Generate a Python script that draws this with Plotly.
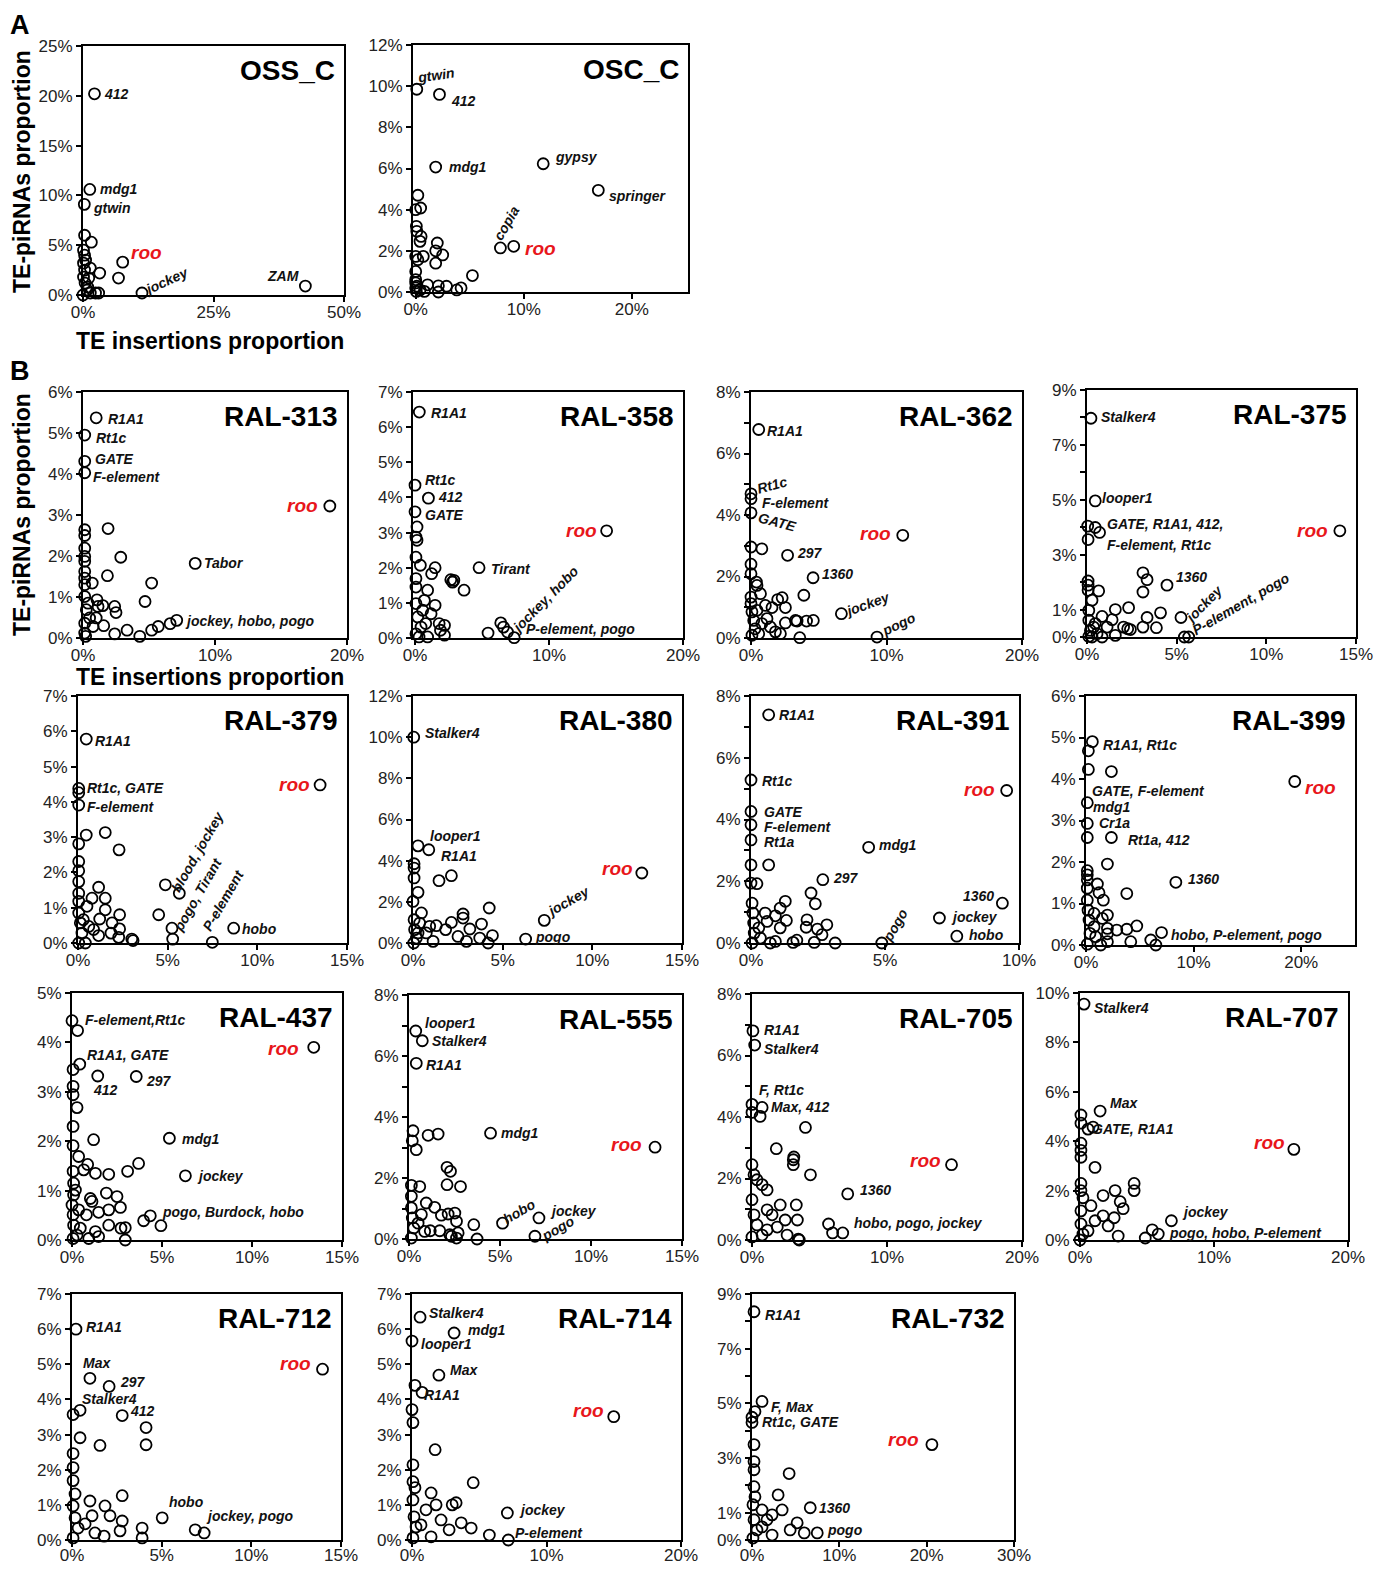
import plotly.graph_objects as go

W, H = 1393, 1573
OFF = 8  # page body margin of the html page
FW, FH = W - 2 * OFF, H - 2 * OFF
FONT = "Arial, Liberation Sans, Helvetica, sans-serif"
RED = "#e8161b"

# ---------------- DATA (percent values) ----------------
panel_names = ["OSS_C", "OSC_C", "RAL-313", "RAL-358", "RAL-362", "RAL-375",
               "RAL-379", "RAL-380", "RAL-391", "RAL-399", "RAL-437", "RAL-555",
               "RAL-705", "RAL-707", "RAL-712", "RAL-714", "RAL-732"]

oss_c_x = [2.2, 1.3, 0.25, 0.3, 1.6, 0.1, 0.3, 0.5, 7.6, 6.8, 3.2, 1.4, 11.3, 42.6,
           0.1, 0.4, 0.8, 1.4, 2.4, 3.0, 0.0, 0.9, 0.3, 1.1, 0.1]
oss_c_y = [20.2, 10.6, 9.1, 6.0, 5.3, 4.5, 4.0, 3.5, 3.3, 1.7, 2.2, 2.7, 0.2, 0.9,
           1.8, 1.2, 0.5, 0.2, 0.2, 0.2, 0.0, 0.8, 2.5, 1.7, 3.2]

osc_c_x = [0.1, 2.2, 1.85, 11.8, 16.9, 7.84, 9.07, 0.2, 0.0, 0.46, 0.06, 0.1, 0.5, 0.4,
           2.0, 1.85, 2.5, 1.85, 0.7, 0.0, 0.2, 0.0, 5.25, 1.1, 2.1, 2.85, 3.8, 4.2,
           0.0, 0.0, 0.06, 0.4, 0.8, 2.1, 0.0, 0.1]
osc_c_y = [9.85, 9.6, 6.07, 6.23, 4.94, 2.14, 2.22, 4.7, 4.0, 4.08, 3.19, 2.95, 2.7, 2.46,
           2.38, 2.0, 1.8, 1.4, 1.73, 1.73, 1.57, 1.0, 0.8, 0.35, 0.3, 0.28, 0.1, 0.2,
           0.44, 0.2, 0.03, 0.1, 0.03, 0.0, 0.6, 0.28]

ral313_x = [1.0, 0.13, 0.13, 0.13, 18.7, 8.5, 1.9, 2.86, 1.85, 5.2, 4.7,
            0.13, 0.13, 0.13, 0.13, 0.13, 0.13, 0.13, 0.13,
            0.7, 1.06, 1.14, 1.5, 2.4, 2.5, 1.57, 2.4, 3.34, 4.3, 5.2, 5.7, 6.6, 7.1,
            0.13, 0.25, 0.5, 0.76, 0.13, 0.2, 0.38, 1.0, 0.13]
ral313_y = [5.37, 4.95, 4.31, 4.03, 3.22, 1.82, 2.67, 1.97, 1.52, 1.34, 0.89,
            2.64, 2.5, 2.19, 1.99, 1.87, 1.62, 1.46, 1.3,
            1.34, 0.93, 0.77, 0.79, 0.77, 0.62, 0.3, 0.1, 0.19, 0.04, 0.19, 0.28, 0.35, 0.43,
            1.01, 0.69, 0.49, 0.28, 0.12, 0.04, 0.85, 0.49, 0.36]

ral358_x = [0.32, 0.0, 1.0, 0.0, 0.15, 0.07, 0.15, 0.07, 14.3, 4.78, 0.4, 1.5, 1.24,
            2.67, 2.9, 2.8, 3.66, 0.94, 0.07, 0.07, 0.7, 1.5, 1.2, 1.8, 2.2, 1.9, 2.2, 0.94,
            5.45, 6.4, 6.6, 6.9, 7.4, 0.07, 0.2, 0.45, 0.07, 0.3, 0.8, 0.57]
ral358_y = [6.43, 4.35, 3.98, 3.59, 3.16, 2.87, 2.78, 2.3, 3.05, 2.0, 2.07, 2.0, 1.83,
            1.66, 1.64, 1.59, 1.36, 1.36, 1.69, 1.45, 1.07, 0.93, 0.69, 0.41, 0.36, 0.22, 0.08, 0.03,
            0.14, 0.43, 0.31, 0.17, 0.01, 0.98, 0.6, 0.31, 0.12, 0.03, 0.41, 0.79]

ral362_x = [0.57, 0.0, 0.0, 0.0, 11.2, 2.7, 4.58, 6.67, 9.3, 0.0, 0.8, 0.0, 0.0, 0.4, 0.44,
            3.9, 1.97, 2.3, 2.54, 1.06, 1.55, 0.7, 2.54, 3.28, 3.4, 4.1, 4.6,
            1.18, 1.43, 1.8, 2.17, 3.6, 0.0, 0.0, 0.07, 0.2, 0.3, 0.07, 0.57, 0.8, 0.44]
ral362_y = [6.78, 4.69, 4.53, 4.07, 3.34, 2.69, 1.96, 0.79, 0.03, 2.96, 2.9, 2.4, 2.09, 1.82, 1.71,
            1.39, 1.25, 1.31, 0.99, 1.06, 0.99, 1.44, 0.49, 0.57, 0.55, 0.55, 0.57,
            0.63, 0.36, 0.2, 0.14, 0.01, 1.33, 1.12, 0.85, 0.57, 0.3, 0.09, 0.14, 0.47, 0.9]

ral375_x = [0.22, 0.46, 0.04, 0.46, 0.7, 0.06, 14.1, 4.46, 3.12, 3.35, 3.12, 0.06, 0.06, 0.06,
            0.65, 0.28, 5.24, 5.43, 5.67, 1.58, 2.32, 3.35, 4.1, 3.87, 3.12, 1.4, 0.84,
            2.04, 2.27, 2.42, 1.58, 1.12, 0.84, 0.1, 0.1, 0.19, 0.37, 0.1, 0.28, 0.46, 0.56]
ral375_y = [7.97, 4.96, 4.04, 3.99, 3.81, 3.55, 3.87, 1.89, 2.34, 2.09, 1.64, 2.04, 1.89, 1.7,
            1.68, 1.34, 0.71, 0.0, 0.0, 1.0, 1.07, 0.71, 0.88, 0.34, 0.36, 0.63, 0.75,
            0.36, 0.3, 0.27, 0.06, 0.36, 0.0, 0.97, 0.61, 0.24, 0.36, 0.02, 0.0, 0.49, 0.12]

ral379_x = [0.46, 0.04, 0.04, 0.04, 13.5, 0.46, 1.52, 2.29, 0.04, 0.04, 0.04, 0.04, 0.04,
            4.87, 5.65, 5.24, 5.28, 7.49, 8.68, 4.5, 1.15, 0.78, 1.52, 1.52, 2.32, 1.21, 0.5,
            1.9, 2.32, 1.84, 2.27, 3.0, 3.07, 1.15, 0.41, 0.04, 0.04, 0.13, 0.22, 0.04, 0.6, 0.87, 0.3]
ral379_y = [5.78, 4.38, 4.26, 3.91, 4.48, 3.06, 3.13, 2.64, 2.81, 2.31, 2.05, 1.74, 1.41,
            1.65, 1.41, 0.42, 0.11, 0.02, 0.42, 0.8, 1.58, 1.27, 1.27, 0.94, 0.8, 0.68, 1.04,
            0.57, 0.4, 0.28, 0.16, 0.11, 0.07, 0.21, 0.0, 1.18, 0.85, 0.57, 0.28, 0.0, 0.47, 0.38, 0.66]

ral380_x = [0.04, 0.28, 0.88, 1.45, 2.14, 0.06, 0.06, 0.06, 0.28, 0.0, 12.76, 7.32, 6.28,
            4.25, 2.79, 2.79, 3.82, 3.17, 2.14, 1.82, 1.3, 2.51, 2.98, 3.72, 4.43, 4.19,
            0.47, 0.93, 1.12, 0.74, 0.06, 0.09, 0.19, 0.04, 0.37, 0.28]
ral380_y = [10.0, 4.72, 4.53, 3.03, 3.27, 3.85, 3.64, 3.16, 2.46, 2.02, 3.4, 1.1, 0.19,
            1.7, 1.41, 1.21, 0.92, 0.68, 1.0, 0.65, 0.84, 0.32, 0.08, 0.24, 0.36, 0.0,
            1.46, 0.81, 0.08, 0.49, 1.13, 0.65, 0.24, 0.0, 0.97, 0.49]

ral391_x = [0.66, 0.0, 0.0, 0.0, 0.0, 0.0, 0.66, 0.0, 0.22, 9.54, 4.39, 2.68, 9.38, 7.03, 7.68, 4.88,
            2.24, 2.4, 1.28, 1.09, 0.91, 1.32, 1.09, 2.09, 2.06, 2.48, 2.83, 2.65, 2.36, 3.14,
            1.71, 1.57, 0.91, 0.72, 0.53, 0.6, 0.04, 0.07, 0.1, 0.12, 0.04, 0.29, 0.35]
ral391_y = [7.39, 5.28, 4.26, 3.83, 3.34, 2.53, 2.53, 1.94, 1.92, 4.94, 3.1, 2.05, 1.29, 0.81, 0.22, 0.0,
            1.62, 1.27, 1.35, 1.13, 0.88, 0.73, 0.49, 0.75, 0.51, 0.45, 0.59, 0.27, 0.02, 0.0,
            0.09, 0.02, 0.05, 0.0, 0.97, 0.7, 1.29, 0.97, 0.65, 0.32, 0.0, 0.49, 0.16]

ral399_x = [0.59, 0.22, 0.22, 2.36, 0.12, 0.12, 0.12, 2.36, 19.4, 8.35, 1.99, 3.79,
            0.12, 0.12, 0.12, 0.12, 1.06, 1.21, 1.61, 1.99, 1.52,
            2.86, 3.79, 4.72, 4.16, 6.02, 6.49, 7.02, 1.99, 1.99, 1.99, 1.37,
            0.12, 0.19, 0.28, 0.37, 0.12, 0.75, 0.75, 0.9]
ral399_y = [4.9, 4.68, 4.23, 4.18, 3.43, 2.93, 2.59, 2.59, 3.94, 1.51, 1.95, 1.24,
            1.79, 1.69, 1.57, 1.37, 1.47, 1.26, 1.08, 0.72, 0.64,
            0.36, 0.38, 0.46, 0.08, 0.12, 0.0, 0.3, 0.4, 0.27, 0.08, 0.0,
            1.08, 0.84, 0.6, 0.28, 0.02, 0.76, 0.44, 0.2]

ral437_x = [0.0, 0.31, 0.43, 0.06, 1.43, 3.57, 0.06, 0.06, 0.28, 0.06, 0.06, 1.2, 13.43, 5.41, 6.3,
            3.98, 4.35, 4.94, 3.7, 3.09, 2.04, 1.3, 0.87, 0.37, 0.65, 0.06, 0.09, 0.19, 0.09,
            1.91, 2.5, 1.02, 1.11, 2.04, 2.69, 1.48, 0.8, 2.04, 2.72, 2.96, 2.96, 1.3, 1.48, 0.93,
            0.0, 0.06, 0.09, 0.06, 0.37, 0.46, 0.28]
ral437_y = [4.44, 4.24, 3.56, 3.45, 3.32, 3.31, 3.11, 2.94, 2.68, 2.3, 1.91, 2.03, 3.9, 2.06, 1.3,
            0.39, 0.49, 0.29, 1.55, 1.39, 1.33, 1.35, 1.53, 1.69, 1.42, 1.39, 1.15, 1.01, 0.91,
            0.95, 0.88, 0.84, 0.78, 0.61, 0.66, 0.56, 0.51, 0.3, 0.24, 0.25, 0.0, 0.17, 0.07, 0.03,
            0.71, 0.51, 0.3, 0.03, 0.61, 0.24, 0.1]

ral555_x = [0.37, 0.73, 0.4, 0.22, 0.18, 0.4, 1.05, 1.6, 4.48, 13.52, 2.09, 2.28, 2.09, 2.83,
            0.13, 0.59, 0.13, 5.14, 7.14, 6.92, 3.56, 3.74, 2.61, 2.7, 2.61, 2.24, 2.33,
            1.41, 1.78, 2.15, 2.52, 1.69, 1.17, 0.95, 0.13, 0.18, 0.26, 0.13, 0.5, 0.68, 0.86]
ral555_y = [6.82, 6.5, 5.76, 3.55, 3.22, 2.93, 3.4, 3.44, 3.47, 3.01, 2.35, 2.22, 1.78, 1.72,
            1.76, 1.72, 1.4, 0.52, 0.69, 0.09, 0.47, 0.0, 0.58, 0.2, 0.03, 0.14, 0.09,
            1.04, 0.78, 0.82, 0.85, 0.27, 0.27, 1.18, 1.02, 0.69, 0.36, 0.03, 0.52, 0.8, 0.25]

ral705_x = [0.07, 0.2, 0.0, 0.0, 0.75, 0.6, 3.96, 1.8, 3.06, 3.06, 3.1, 0.0, 0.15, 0.37, 0.75,
            14.78, 7.09, 5.67, 5.97, 6.72, 4.33, 3.28, 3.36, 3.43, 3.5,
            1.12, 2.09, 1.49, 2.46, 1.87, 1.12, 2.6, 0.0, 0.15, 0.37, 0.0, 0.75, 1.12]
ral705_y = [6.8, 6.34, 4.41, 4.15, 4.31, 4.02, 3.66, 2.97, 2.61, 2.45, 2.7, 2.45, 2.12, 1.96, 1.8,
            2.45, 1.5, 0.52, 0.23, 0.23, 2.12, 1.14, 0.65, 0.03, 0.0,
            1.63, 1.14, 0.82, 0.65, 0.42, 0.33, 0.16, 1.31, 0.82, 0.49, 0.1, 0.16, 0.98]

ral707_x = [0.3, 1.5, 0.07, 0.07, 0.6, 0.97, 0.07, 0.07, 0.07, 15.96, 6.82, 5.39, 5.84, 4.87,
            4.04, 4.04, 1.12, 0.07, 0.07, 0.22, 2.62, 1.72, 3.0, 3.22, 2.55, 1.72,
            0.82, 1.12, 2.1, 2.85, 0.07, 0.07, 0.22, 0.0, 0.6]
ral707_y = [9.55, 5.22, 5.06, 4.73, 4.49, 4.57, 3.92, 3.63, 3.35, 3.67, 0.78, 0.41, 0.24, 0.08,
            2.29, 2.0, 2.94, 2.29, 2.0, 1.71, 2.0, 1.8, 1.55, 1.27, 0.9, 0.98,
            1.39, 0.78, 0.57, 0.16, 1.18, 0.65, 0.24, 0.0, 0.37]

ral712_x = [0.22, 1.0, 2.07, 0.06, 2.8, 0.45, 4.13, 4.13, 0.45, 1.56, 0.06, 0.06, 0.06, 0.17,
            13.97, 5.03, 6.87, 7.37, 2.8, 1.84, 1.0, 2.12, 2.8, 1.12, 3.91, 3.91, 2.68, 1.79, 1.28,
            0.06, 0.17, 0.34, 0.06, 0.73]
ral712_y = [6.0, 4.6, 4.37, 3.57, 3.54, 3.69, 3.2, 2.71, 2.91, 2.69, 2.46, 2.06, 1.69, 1.31,
            4.86, 0.63, 0.29, 0.2, 1.26, 0.97, 1.11, 0.69, 0.54, 0.69, 0.34, 0.06, 0.26, 0.11, 0.2,
            0.97, 0.63, 0.34, 0.06, 0.46]

ral714_x = [0.6, 3.13, 0.0, 2.0, 0.22, 0.75, 0.0, 0.07, 1.72, 15.0, 7.09, 7.16, 4.55, 3.28,
            2.99, 3.66, 4.4, 5.75, 0.07, 0.07, 0.22, 1.42, 1.79, 1.04, 2.16, 2.76, 1.42,
            0.07, 0.15, 0.3, 0.07, 0.67]
ral714_y = [6.34, 5.89, 5.66, 4.69, 4.4, 4.2, 3.71, 3.34, 2.57, 3.51, 0.77, 0.0, 1.63, 1.06,
            1.0, 0.49, 0.34, 0.14, 2.14, 1.66, 1.49, 1.34, 1.0, 0.86, 0.57, 0.29, 0.09,
            1.14, 0.66, 0.37, 0.06, 0.43]

ral732_x = [0.23, 1.15, 0.34, 0.0, 0.0, 0.23, 0.23, 0.23, 4.25, 20.6, 6.67, 7.47, 5.98,
            2.99, 3.45, 5.17, 2.3, 4.37, 0.23, 0.34, 1.15, 1.72, 0.11, 0.23, 0.57, 0.11, 1.15, 2.3]
ral732_y = [8.35, 5.07, 4.7, 4.49, 4.3, 3.49, 2.87, 2.57, 2.43, 3.49, 1.18, 0.26, 0.26,
            1.65, 1.1, 0.63, 0.92, 0.37, 1.95, 1.58, 1.1, 0.74, 1.29, 0.74, 0.37, 0.07, 0.48, 0.18]

# axis tick values (percent) and which are labelled
x_ticks = [[0, 25, 50], [0, 10, 20], [0, 10, 20], [0, 10, 20], [0, 10, 20], [0, 5, 10, 15],
           [0, 5, 10, 15], [0, 5, 10, 15], [0, 5, 10], [0, 10, 20], [0, 5, 10, 15], [0, 5, 10, 15],
           [0, 10, 20], [0, 10, 20], [0, 5, 10, 15], [0, 10, 20], [0, 10, 20, 30]]
y_ticks = [[0, 5, 10, 15, 20, 25], [0, 2, 4, 6, 8, 10, 12], list(range(7)), list(range(8)),
           list(range(9)), list(range(10)), list(range(8)), [0, 2, 4, 6, 8, 10, 12],
           list(range(9)), list(range(7)), list(range(6)), list(range(9)),
           list(range(9)), [0, 2, 4, 6, 8, 10], list(range(8)), list(range(8)), list(range(10))]
y_tick_labelled = [None, None, None, None, [0, 2, 4, 6, 8], [0, 1, 3, 5, 7, 9], None, None,
                   [0, 2, 4, 6, 8], None, None, [0, 2, 4, 6, 8], [0, 2, 4, 6, 8], None, None, None,
                   [0, 1, 3, 5, 7, 9]]
x_ranges = [[0, 50], [-0.25, 25.2], [0, 20], [-0.15, 20], [0, 20], [0, 15], [0, 15], [0, 15],
            [0, 10], [0, 25], [0, 15], [0, 15], [0, 20], [0, 20], [0, 15], [0, 20], [0, 30]]
y_ranges = [[0, 25], [0, 12], [0, 6], [0, 7], [0, 8], [0, 9], [0, 7], [0, 12], [0, 8], [0, 6],
            [0, 5], [0, 8], [0, 8], [0, 10], [0, 7], [0, 7], [0, 9]]

xs = [oss_c_x, osc_c_x, ral313_x, ral358_x, ral362_x, ral375_x, ral379_x, ral380_x, ral391_x,
      ral399_x, ral437_x, ral555_x, ral705_x, ral707_x, ral712_x, ral714_x, ral732_x]
ys = [oss_c_y, osc_c_y, ral313_y, ral358_y, ral362_y, ral375_y, ral379_y, ral380_y, ral391_y,
      ral399_y, ral437_y, ral555_y, ral705_y, ral707_y, ral712_y, ral714_y, ral732_y]

# point labels: (text, x, y, angle, anchor)
labels = [
    [("412", 3.6, 20.2, 0, "left"), ("mdg1", 2.9, 10.6, 0, "left"), ("gtwin", 1.6, 8.7, 0, "left"),
     ("roo", 8.9, 4.25, 0, "left"), ("jockey", 15.9, 1.44, -25, "center"), ("ZAM", 41.8, 1.9, 0, "right")],
    [("gtwin", 1.9, 10.55, -8, "center"), ("412", 3.1, 9.3, 0, "left"), ("mdg1", 2.85, 6.07, 0, "left"),
     ("gypsy", 12.7, 6.55, 0, "left"), ("springer", 17.7, 4.68, 0, "left"),
     ("copia", 8.4, 3.35, -60, "center"), ("roo", 9.94, 2.1, 0, "left")],
    [("R1A1", 1.72, 5.35, 0, "left"), ("Rt1c", 0.84, 4.87, 0, "left"), ("GATE", 0.76, 4.36, 0, "left"),
     ("F-element", 0.63, 3.93, 0, "left"), ("roo", 17.97, 3.24, 0, "right"),
     ("Tabor", 8.99, 1.84, 0, "left"), ("jockey, hobo, pogo", 7.6, 0.41, 0, "left")],
    [("R1A1", 1.01, 6.39, 0, "left"), ("Rt1c", 0.62, 4.49, 0, "left"), ("412", 1.56, 4.01, 0, "left"),
     ("GATE", 0.62, 3.51, 0, "left"), ("roo", 13.76, 3.06, 0, "right"), ("Tirant", 5.52, 1.96, 0, "left"),
     ("jockey, hobo", 9.73, 1.12, -45, "center"), ("P-element, pogo", 8.17, 0.27, 0, "left")],
    [("R1A1", 1.06, 6.73, 0, "left"), ("Rt1c", 1.55, 4.96, -15, "center"), ("F-element", 0.64, 4.4, 0, "left"),
     ("GATE", 1.92, 3.77, 15, "center"), ("roo", 10.49, 3.39, 0, "right"), ("297", 3.28, 2.76, 0, "left"),
     ("1360", 5.07, 2.09, 0, "left"), ("jockey", 8.57, 1.12, -20, "center"), ("pogo", 10.9, 0.44, -25, "center")],
    [("Stalker4", 0.65, 8.03, 0, "left"), ("looper1", 0.74, 5.07, 0, "left"),
     ("GATE, R1A1, 412,", 0.99, 4.11, 0, "left"), ("F-element, Rt1c", 0.99, 3.35, 0, "left"),
     ("roo", 13.57, 3.89, 0, "right"), ("1360", 4.83, 2.17, 0, "left"),
     ("jockey", 6.5, 1.22, -45, "center"), ("P-element, pogo", 8.55, 1.22, -30, "center")],
    [("R1A1", 0.84, 5.72, 0, "left"), ("Rt1c, GATE", 0.41, 4.38, 0, "left"), ("F-element", 0.41, 3.86, 0, "left"),
     ("roo", 13.05, 4.5, 0, "right"), ("blood, jockey", 6.64, 2.59, -60, "center"),
     ("pogo, Tirant", 6.64, 1.37, -60, "center"), ("P-element", 8.1, 1.22, -60, "center"),
     ("hobo", 9.01, 0.4, 0, "left")],
    [("Stalker4", 0.56, 10.19, 0, "left"), ("looper1", 0.84, 5.18, 0, "left"), ("R1A1", 1.45, 4.21, 0, "left"),
     ("roo", 12.38, 3.64, 0, "right"), ("jockey", 8.66, 2.02, -30, "center"), ("pogo", 6.7, 0.29, 0, "left")],
    [("R1A1", 0.97, 7.39, 0, "left"), ("Rt1c", 0.35, 5.25, 0, "left"), ("GATE", 0.41, 4.23, 0, "left"),
     ("F-element", 0.41, 3.77, 0, "left"), ("Rt1a", 0.41, 3.26, 0, "left"), ("roo", 9.17, 4.96, 0, "right"),
     ("mdg1", 4.7, 3.16, 0, "left"), ("297", 2.99, 2.09, 0, "left"), ("1360", 9.14, 1.51, 0, "right"),
     ("jockey", 7.37, 0.84, 0, "left"), ("hobo", 8.05, 0.25, 0, "left"), ("pogo", 5.38, 0.59, -60, "center")],
    [("R1A1, Rt1c", 1.37, 4.82, 0, "left"), ("GATE, F-element", 0.37, 3.72, 0, "left"),
     ("mdg1", 0.43, 3.33, 0, "left"), ("Cr1a", 0.99, 2.93, 0, "left"), ("Rt1a, 412", 3.7, 2.53, 0, "left"),
     ("roo", 20.16, 3.8, 0, "left"), ("1360", 9.29, 1.58, 0, "left"),
     ("hobo, P-element, pogo", 7.73, 0.24, 0, "left")],
    [("F-element,Rt1c", 0.61, 4.46, 0, "left"), ("R1A1, GATE", 0.74, 3.75, 0, "left"),
     ("412", 1.06, 3.04, 0, "left"), ("297", 4.02, 3.22, 0, "left"), ("roo", 12.72, 3.87, 0, "right"),
     ("mdg1", 6.02, 2.05, 0, "left"), ("jockey", 6.85, 1.3, 0, "left"),
     ("pogo, Burdock, hobo", 4.87, 0.56, 0, "left")],
    [("looper1", 0.77, 7.07, 0, "left"), ("Stalker4", 1.17, 6.5, 0, "left"), ("R1A1", 0.81, 5.71, 0, "left"),
     ("mdg1", 4.95, 3.49, 0, "left"), ("roo", 12.92, 3.09, 0, "right"), ("hobo", 6.09, 0.91, -30, "center"),
     ("jockey", 7.61, 0.93, 0, "left"), ("pogo", 8.2, 0.36, -30, "center")],
    [("R1A1", 0.75, 6.83, 0, "left"), ("Stalker4", 0.75, 6.21, 0, "left"), ("F, Rt1c", 0.37, 4.87, 0, "left"),
     ("Max, 412", 1.27, 4.31, 0, "left"), ("roo", 14.18, 2.58, 0, "right"), ("1360", 7.84, 1.63, 0, "left"),
     ("hobo, pogo, jockey", 7.39, 0.56, 0, "left")],
    [("Stalker4", 0.9, 9.39, 0, "left"), ("Max", 2.1, 5.55, 0, "left"), ("GATE, R1A1", 0.75, 4.49, 0, "left"),
     ("roo", 15.43, 3.96, 0, "right"), ("jockey", 7.49, 1.14, 0, "left"),
     ("pogo, hobo, P-element", 6.52, 0.29, 0, "left")],
    [("R1A1", 0.67, 6.06, 0, "left"), ("Max", 0.5, 5.03, 0, "left"), ("297", 2.57, 4.49, 0, "left"),
     ("Stalker4", 0.45, 4.0, 0, "left"), ("412", 3.13, 3.66, 0, "left"), ("roo", 13.46, 5.03, 0, "right"),
     ("hobo", 5.31, 1.09, 0, "left"), ("jockey, pogo", 7.37, 0.69, 0, "left")],
    [("Stalker4", 1.12, 6.46, 0, "left"), ("mdg1", 4.03, 5.97, 0, "left"), ("looper1", 0.52, 5.57, 0, "left"),
     ("Max", 2.69, 4.83, 0, "left"), ("R1A1", 0.75, 4.14, 0, "left"), ("roo", 14.4, 3.69, 0, "right"),
     ("jockey", 7.84, 0.86, 0, "left"), ("P-element", 7.54, 0.2, 0, "left")],
    [("R1A1", 1.26, 8.24, 0, "left"), ("F, Max", 1.95, 4.85, 0, "left"), ("Rt1c, GATE", 0.92, 4.3, 0, "left"),
     ("roo", 19.3, 3.68, 0, "right"), ("1360", 7.47, 1.18, 0, "left"), ("pogo", 8.39, 0.37, 0, "left")],
]

# ---------------- LAYOUT (page pixel boxes: left, right, top, bottom) ----------------
boxes = [(83, 344, 46, 295), (413, 688, 45, 292),
         (83, 347, 392, 638), (413, 683, 392, 638), (751, 1022, 392, 638), (1087, 1356, 390, 637),
         (78, 347, 696, 943), (413, 682, 696, 943), (751, 1019, 696, 943), (1086, 1355, 696, 945),
         (72, 342, 993, 1240), (409, 682, 995, 1239), (752, 1022, 994, 1240), (1080, 1348, 993, 1240),
         (72, 341, 1294, 1540), (412, 681, 1294, 1540), (752, 1014, 1294, 1540)]


def px_x(p):
    return (p - OFF) / FW


def px_y(p):
    return 1 - (p - OFF) / FH


fig = go.Figure()
annotations = []
layout = {}

for i, name in enumerate(panel_names):
    n = "" if i == 0 else str(i + 1)
    xa, ya = "x" + n, "y" + n
    L, R, T, B = boxes[i]
    fig.add_trace(go.Scatter(
        x=xs[i], y=ys[i], mode="markers", xaxis=xa, yaxis=ya, cliponaxis=False,
        marker=dict(symbol="circle-open", size=11, color="black", line=dict(width=1.8, color="black")),
        showlegend=False, hoverinfo="skip"))
    ylab = y_tick_labelled[i]
    yt = [("%d%%" % v) if (ylab is None or v in ylab) else "" for v in y_ticks[i]]
    common = dict(showline=True, linecolor="black", linewidth=2, mirror=True, ticks="outside",
                  ticklen=5, tickwidth=1.5, tickcolor="black", showgrid=False, zeroline=False,
                  automargin=False,
                  tickfont=dict(family=FONT, size=17, color="#222"), fixedrange=True)
    bottom_row = i >= 14
    layout["xaxis" + n] = dict(domain=[px_x(L), px_x(R)], anchor=ya, range=x_ranges[i],
                               tickvals=x_ticks[i], ticktext=["%d%%" % v for v in x_ticks[i]],
                               ticklabelstandoff=-6 if bottom_row else -4, **common)
    layout["yaxis" + n] = dict(domain=[px_y(B), px_y(T)], anchor=xa, range=y_ranges[i],
                               tickvals=y_ticks[i], ticktext=yt, **common)
    # panel title
    annotations.append(dict(text="<b>%s</b>" % name, xref=xa + " domain", yref=ya + " domain",
                            x=0.975, y=0.97, xanchor="right", yanchor="top", showarrow=False,
                            font=dict(family=FONT, size=28, color="black")))
    for (txt, lx, ly, ang, anc) in labels[i]:
        is_roo = txt == "roo"
        annotations.append(dict(
            text="<b><i>%s</i></b>" % txt, xref=xa, yref=ya, x=lx, y=ly, xanchor=anc,
            yanchor="middle", textangle=ang, showarrow=False,
            font=dict(family=FONT, size=19 if is_roo else 14, color=RED if is_roo else "#111")))

# panel letters and axis titles
for txt, px, py in [("A", 20, 8), ("B", 20, 354)]:
    annotations.append(dict(text="<b>%s</b>" % txt, xref="paper", yref="paper", x=px_x(px), y=px_y(py),
                            xanchor="center", yanchor="top", showarrow=False,
                            font=dict(family=FONT, size=27, color="black")))
for py in [172, 515]:
    annotations.append(dict(text="<b>TE-piRNAs proportion</b>", xref="paper", yref="paper",
                            x=px_x(22), y=px_y(py), xanchor="center", yanchor="middle", textangle=-90,
                            showarrow=False, font=dict(family=FONT, size=23, color="black")))
for py in [341, 677]:
    annotations.append(dict(text="<b>TE insertions proportion</b>", xref="paper", yref="paper",
                            x=px_x(210), y=px_y(py), xanchor="center", yanchor="middle",
                            showarrow=False, font=dict(family=FONT, size=23, color="black")))

fig.update_layout(width=FW, height=FH, margin=dict(l=0, r=0, t=0, b=0, autoexpand=False),
                  paper_bgcolor="white", plot_bgcolor="white", annotations=annotations, **layout)

fig.write_html("out.html")
